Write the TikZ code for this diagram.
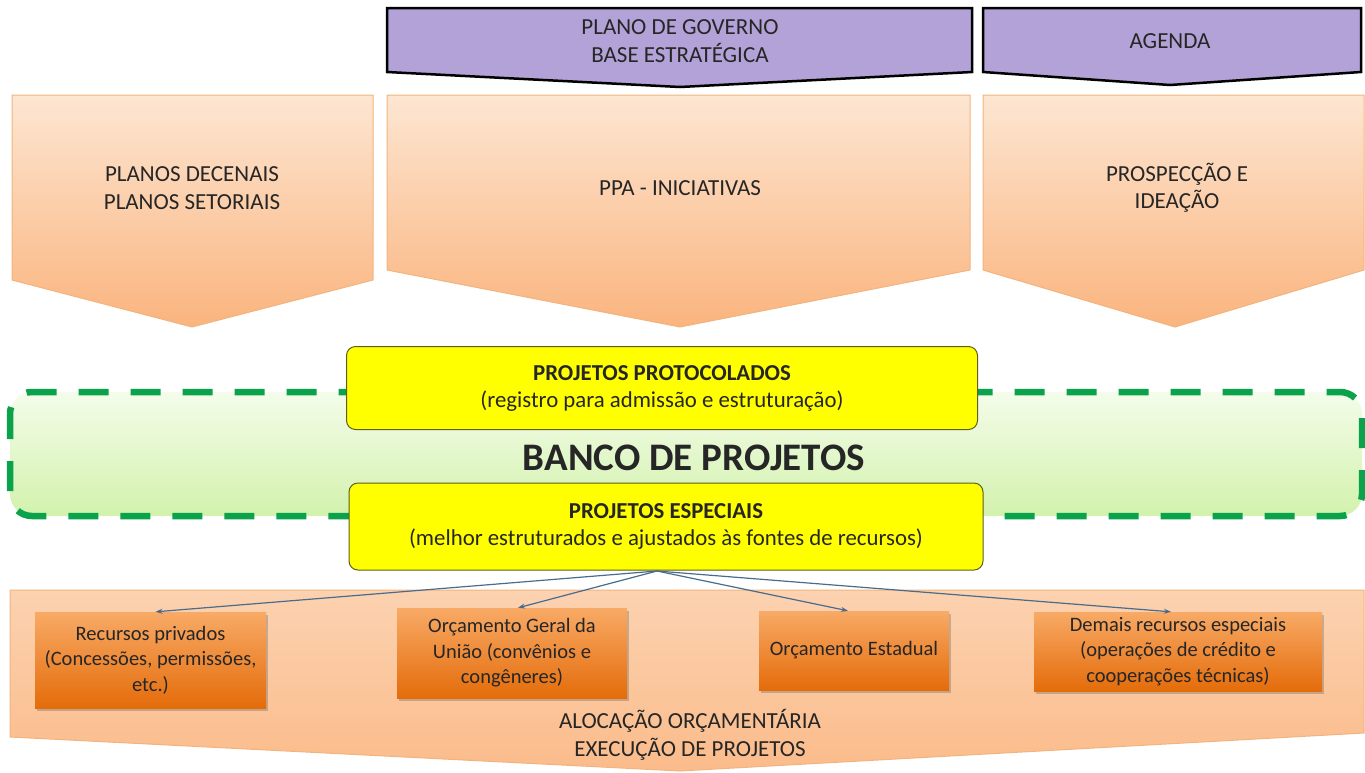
\documentclass[tikz,border=0pt]{standalone}
\usepackage{fontspec}
\setmainfont{Carlito}
\usetikzlibrary{arrows.meta,shadows}
\definecolor{txt}{HTML}{262626}
\definecolor{purp}{HTML}{B3A2D7}
\definecolor{peachT}{HTML}{FDE6D2}
\definecolor{peachB}{HTML}{FAB47E}
\definecolor{peachLine}{HTML}{F2B47E}
\definecolor{grn}{HTML}{0AA24A}
\definecolor{grnT}{HTML}{F4FCEA}
\definecolor{grnB}{HTML}{D2F2AC}
\definecolor{yel}{HTML}{FFFF00}
\definecolor{yelLine}{HTML}{5E5E1A}
\definecolor{boxT}{HTML}{F8AA66}
\definecolor{boxB}{HTML}{E46C0A}
\definecolor{arr}{HTML}{4A6B8C}
\begin{document}
\begin{tikzpicture}[x=1pt,y=-1pt,
  purpshape/.style={fill=purp,draw=black,line width=2.5pt,line join=miter},
  chev/.style={top color=peachT,bottom color=peachB,draw=peachLine,line width=1pt},
  bigbase/.style={top color=peachT!60!peachB,bottom color=peachB!85!peachT,draw=peachLine,line width=1pt},
  lbl/.style={text=txt,align=center,font=\fontsize{23}{27.5}\selectfont},
  yelbox/.style={fill=yel,draw=yelLine,line width=1pt,rounded corners=9pt,text=txt,align=center,font=\fontsize{22.8}{27}\selectfont,inner sep=0pt},
  srcbox/.style={top color=boxT,bottom color=boxB,draw=none,text=txt,align=center,font=\fontsize{20.5}{25.5}\selectfont,inner sep=0pt,drop shadow={shadow xshift=2pt,shadow yshift=-3pt,opacity=0.35,fill=black!60}},
  conn/.style={draw=arr,line width=1.2pt,-{Stealth[length=7pt,width=5pt]}}
]
\useasboundingbox (0,0) rectangle (1365,772);

% top purple chevrons
\draw[purpshape] (387,8) -- (972,8) -- (972,72) -- (680,87) -- (387,72) -- cycle;
\draw[purpshape] (983,8) -- (1361,8) -- (1361,72) -- (1170,85) -- (983,72) -- cycle;
\node[lbl] (gov) at (680,41) {PLANO DE GOVERNO\\BASE ESTRATÉGICA};
\node[lbl] (agenda) at (1170,41) {AGENDA};

% orange chevrons
\path[chev] (12,95) -- (373,95) -- (373,280) -- (192,327) -- (12,280) -- cycle;
\path[chev] (387,95) -- (970,95) -- (970,270) -- (680,327) -- (387,270) -- cycle;
\path[chev] (983,95) -- (1364,95) -- (1364,270) -- (1175,327) -- (983,270) -- cycle;
\node[lbl] (planos) at (192,188) {PLANOS DECENAIS\\PLANOS SETORIAIS};
\node[lbl] (ppa) at (680,188) {PPA - INICIATIVAS};
\node[lbl] (prosp) at (1177,188) {PROSPECÇÃO E\\IDEAÇÃO};

% green bank
\path[top color=grnT,bottom color=grnB] (10,392) [rounded corners=22pt] rectangle (1362,516);
\draw[draw=grn,line width=6.5pt,dash pattern=on 30pt off 22pt,dash phase=5pt,rounded corners=22pt] (10,392) rectangle (1362,516);
\node[text=txt,font=\fontsize{39}{44}\selectfont\bfseries] (banco) at (694,458) {BANCO DE PROJETOS};

% yellow boxes
\node[yelbox,minimum width=631pt,minimum height=83pt] (prot) at (662,388)
  {\textbf{PROJETOS PROTOCOLADOS}\\(registro para admissão e estruturação)};
\node[yelbox,minimum width=634pt,minimum height=87pt] (esp) at (666,526.5)
  {\textbf{PROJETOS ESPECIAIS}\\(melhor estruturados e ajustados às fontes de recursos)};

% bottom base
\path[bigbase] (10,590) -- (1364,590) -- (1364,733) -- (680,771) -- (10,737) -- cycle;
\node[lbl] (aloc) at (690,735) {ALOCAÇÃO ORÇAMENTÁRIA\\EXECUÇÃO DE PROJETOS};

% resource boxes
\node[srcbox,minimum width=231pt,minimum height=96pt] (rec) at (150.5,660)
  {Recursos privados\\(Concessões, permissões,\\etc.)};
\node[srcbox,minimum width=230pt,minimum height=90pt] (oge) at (512,653)
  {Orçamento Geral da\\União (convênios e\\congêneres)};
\node[srcbox,minimum width=190pt,minimum height=79pt] (oe) at (854,650.5)
  {Orçamento Estadual};
\node[srcbox,minimum width=288pt,minimum height=79pt] (dem) at (1178,651.5)
  {Demais recursos especiais\\(operações de crédito e\\cooperações técnicas)};

% connectors
\coordinate (src) at (657,571);
\draw[conn] (src) -- ([xshift=5pt]rec.north);
\draw[conn] (src) -- ([xshift=6pt]oge.north);
\draw[conn] (src) -- ([xshift=-6pt]oe.north);
\draw[conn] (src) -- ([xshift=-7pt]dem.north);
\end{tikzpicture}
\end{document}
